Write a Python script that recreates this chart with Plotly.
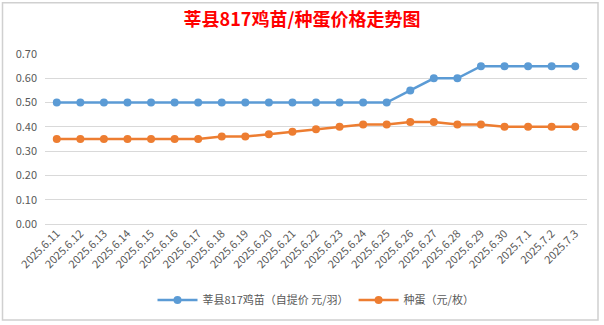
import plotly.graph_objects as go

dates = ["2025.6.11", "2025.6.12", "2025.6.13", "2025.6.14", "2025.6.15", "2025.6.16",
         "2025.6.17", "2025.6.18", "2025.6.19", "2025.6.20", "2025.6.21", "2025.6.22",
         "2025.6.23", "2025.6.24", "2025.6.25", "2025.6.26", "2025.6.27", "2025.6.28",
         "2025.6.29", "2025.6.30", "2025.7.1", "2025.7.2", "2025.7.3"]
chick_price = [0.50, 0.50, 0.50, 0.50, 0.50, 0.50, 0.50, 0.50, 0.50, 0.50, 0.50, 0.50,
               0.50, 0.50, 0.50, 0.55, 0.60, 0.60, 0.65, 0.65, 0.65, 0.65, 0.65]
egg_price = [0.35, 0.35, 0.35, 0.35, 0.35, 0.35, 0.35, 0.36, 0.36, 0.37, 0.38, 0.39,
             0.40, 0.41, 0.41, 0.42, 0.42, 0.41, 0.41, 0.40, 0.40, 0.40, 0.40]
y_ticks = [0.0, 0.1, 0.2, 0.3, 0.4, 0.5, 0.6, 0.7]

title_text = "莘县817鸡苗/种蛋价格走势图"
name_chick = "莘县817鸡苗（自提价 元/羽）"
name_egg = "种蛋（元/枚）"

FONT = "Noto Sans CJK SC, Noto Sans, sans-serif"
GRAY = "#595959"

fig = go.Figure()
fig.add_trace(go.Scatter(
    x=dates, y=chick_price, name=name_chick, mode="lines+markers",
    line=dict(color="#5B9BD5", width=2.5),
    marker=dict(color="#5B9BD5", size=8),
))
fig.add_trace(go.Scatter(
    x=dates, y=egg_price, name=name_egg, mode="lines+markers",
    line=dict(color="#ED7D31", width=2.5),
    marker=dict(color="#ED7D31", size=8),
))

W, H = 604, 325
L, R, T, B = 45, 17, 54, 100
pw, ph = W - L - R, H - T - B


def px_x(p):
    return (p - L) / pw


def px_y(p):
    return (H - B - p) / ph


fig.update_layout(
    width=W, height=H,
    margin=dict(l=L, r=R, t=T, b=B),
    paper_bgcolor="white", plot_bgcolor="white",
    font=dict(family=FONT, size=11, color=GRAY),
    title=dict(text="<b>" + title_text + "</b>", x=0.5, xanchor="center",
               y=1 - 20 / H, yanchor="middle",
               font=dict(family=FONT, size=18, color="#FF0000")),
    showlegend=True,
    legend=dict(orientation="h", x=0.5, xanchor="center",
                y=px_y(300), yanchor="middle",
                font=dict(family=FONT, size=11, color=GRAY),
                itemwidth=40, tracegroupgap=0),
    xaxis=dict(type="category", range=[-0.5, len(dates) - 0.5],
               tickangle=-45, showgrid=False, showline=False, zeroline=False,
               ticks="", tickfont=dict(size=11, color=GRAY)),
    yaxis=dict(range=[0, 0.7], tickvals=y_ticks,
               ticktext=[f"{v:.2f}" for v in y_ticks],
               showgrid=True, gridcolor="#D9D9D9", gridwidth=1,
               zeroline=True, zerolinecolor="#D9D9D9", zerolinewidth=1,
               showline=False, ticks="", ticklabelstandoff=7,
               tickfont=dict(size=11, color=GRAY)),
    shapes=[dict(type="rect", xref="paper", yref="paper",
                 x0=px_x(2.5), x1=px_x(598), y0=px_y(321.5), y1=px_y(2.5),
                 line=dict(color="#D0D0D0", width=1.5), fillcolor="rgba(0,0,0,0)",
                 layer="below")],
)

fig.write_html("out.html")
